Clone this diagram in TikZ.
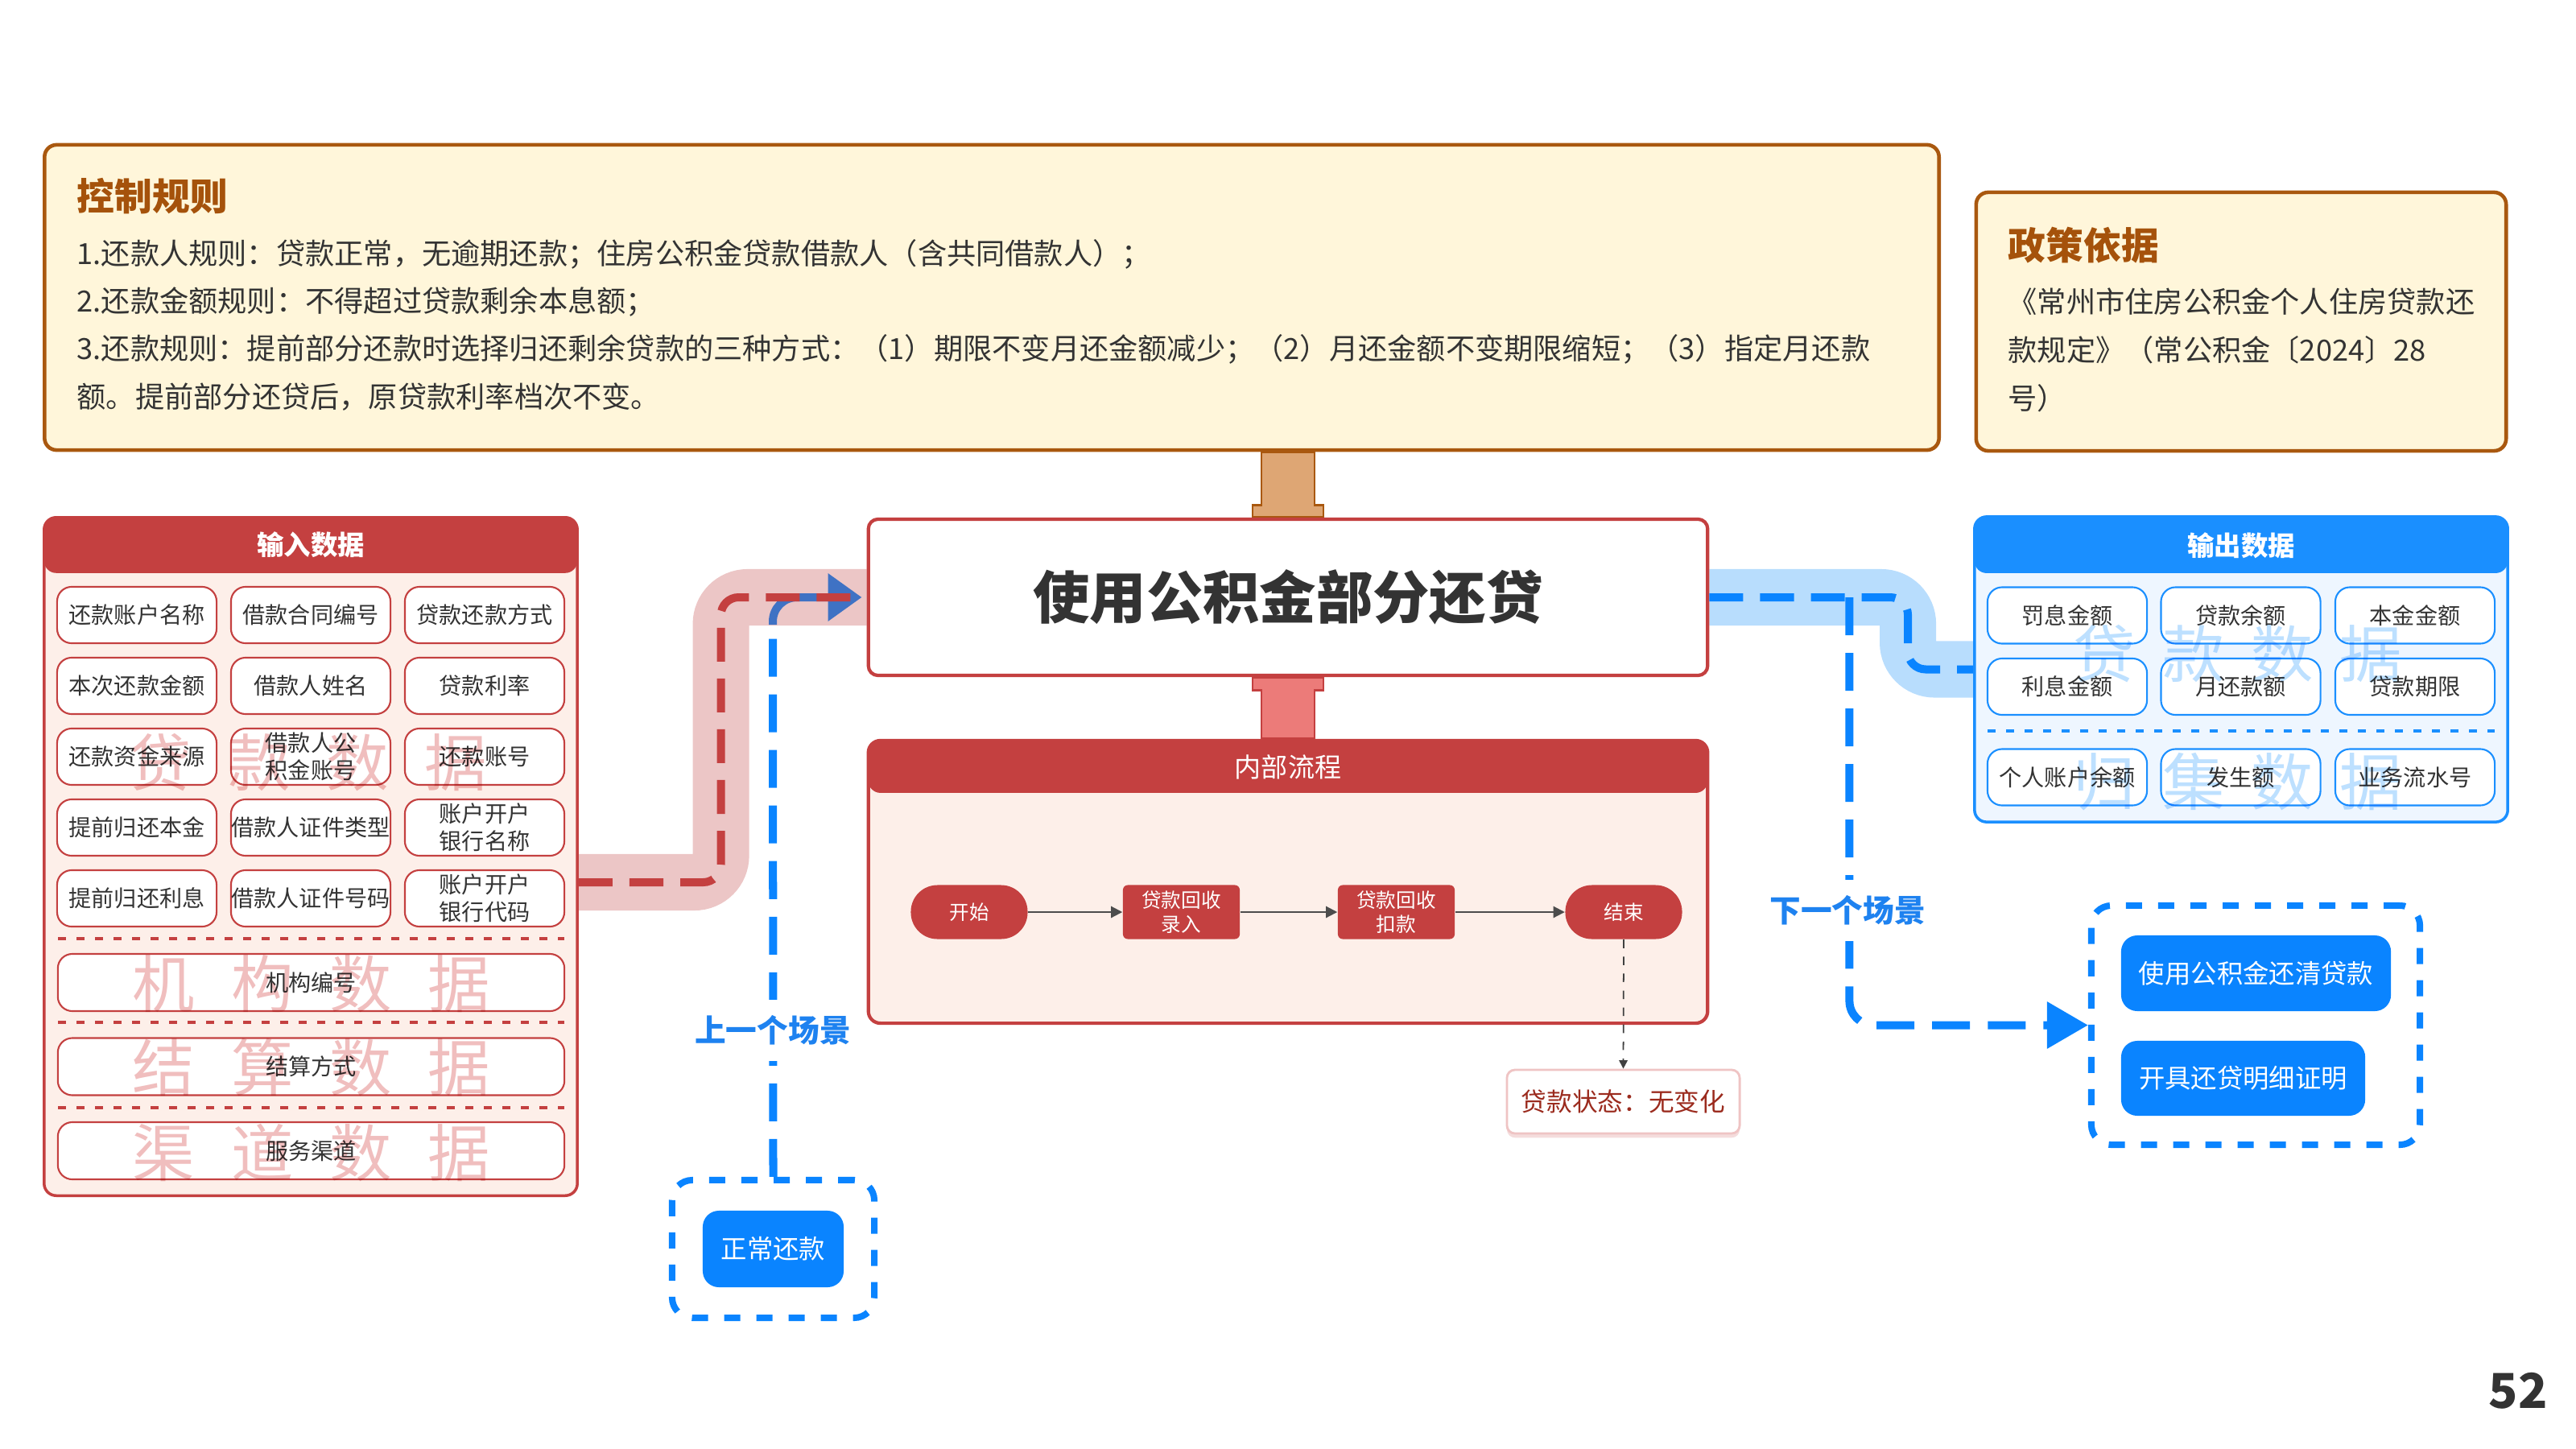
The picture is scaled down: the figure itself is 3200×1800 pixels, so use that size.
\documentclass[tikz,border=0pt]{standalone}
\usepackage{fontspec}
\setmainfont{Noto Sans CJK SC}
\usetikzlibrary{calc,arrows.meta,shadows}
\pgfdeclarelayer{background}
\pgfsetlayers{background,main}

\definecolor{ctrlline}{HTML}{A9580F}
\definecolor{ctrlfill}{HTML}{FFF6DA}
\definecolor{ctrltitle}{HTML}{A5520B}
\definecolor{tanfill}{HTML}{DEA674}
\definecolor{redmain}{HTML}{C44040}
\definecolor{redbody}{HTML}{FDEFE9}
\definecolor{redband}{HTML}{ECC6C6}
\definecolor{salmon}{HTML}{EC7B79}
\definecolor{redwm}{HTML}{F0BEBE}
\definecolor{outblue}{HTML}{1A8FFF}
\definecolor{outbody}{HTML}{EEF6FF}
\definecolor{blueband}{HTML}{B8DDFD}
\definecolor{bluewm}{HTML}{BDE0FF}
\definecolor{sceneblue}{HTML}{0A84FF}
\definecolor{steelblue}{HTML}{3F72C4}
\definecolor{labelblue}{HTML}{1E82F0}
\definecolor{textgray}{HTML}{333333}
\definecolor{statusred}{HTML}{9B2B1E}
\definecolor{statusedge}{HTML}{EFC4C4}

\tikzset{
  panelbox/.style={draw=#1, line width=1pt, rounded corners=0.15cm, inner sep=0pt},
  headtext/.style={text=white, inner sep=0pt, font=\fontsize{9.5}{10}\selectfont\bfseries},
  incell/.style={draw=redmain, fill=white, line width=0.6pt, rounded corners=0.18cm, minimum width=1.98cm, minimum height=0.70cm, inner sep=0pt, align=center, text=textgray, font=\fontsize{8}{9.8}\selectfont},
  outcell/.style={incell, draw=outblue},
  widecell/.style={incell, minimum width=6.29cm, minimum height=0.71cm},
  rule/.style={anchor=west, text=textgray, inner sep=0pt, font=\fontsize{10.3}{12}\selectfont},
  boxtitle/.style={anchor=west, text=ctrltitle, inner sep=0pt, font=\fontsize{13.3}{14}\selectfont\bfseries},
  titlebox/.style={draw=redmain, fill=white, line width=1.2pt, rounded corners=0.12cm, minimum width=10.42cm, minimum height=1.94cm, inner sep=0pt, text=textgray, font=\fontsize{20}{20}\selectfont\bfseries},
  flowstep/.style={fill=redmain, text=white, minimum width=1.45cm, minimum height=0.67cm, inner sep=0pt, align=center, rounded corners=0.06cm, font=\fontsize{7}{8.7}\selectfont},
  flowend/.style={flowstep, rounded corners=0.33cm},
  flowarrow/.style={draw=black!70, line width=0.6pt, -{Triangle[length=4pt,width=4pt]}},
  statusbox/.style={draw=statusedge, fill=white, line width=0.8pt, rounded corners=0.1cm, minimum width=2.89cm, minimum height=0.79cm, inner sep=0pt, text=statusred, font=\fontsize{9}{10}\selectfont, drop shadow={shadow xshift=0pt, shadow yshift=-1.5pt, opacity=0.3, fill=redmain!60}},
  sepline/.style={draw=#1, line width=1pt, dash pattern=on 0.1cm off 0.13cm},
  watermark/.style={inner sep=0pt, font=\fontsize{22}{22}\selectfont},
  scenebox/.style={draw=sceneblue, line width=0.08cm, dash pattern=on 0.2cm off 0.2cm, rounded corners=0.25cm, inner sep=0pt},
  scenebtn/.style={fill=sceneblue, text=white, rounded corners=0.2cm, inner sep=0pt, font=\fontsize{9.2}{10}\selectfont},
  scenedash/.style={draw=sceneblue, line width=0.1cm, dash pattern=on 0.47cm off 0.22cm, rounded corners=0.3cm},
  scenelabel/.style={fill=white, text=labelblue, inner xsep=0.02cm, inner ysep=0.2cm, font=\fontsize{11}{12}\selectfont\bfseries},
  band/.style={draw=#1, line width=0.7cm, rounded corners=0.33cm},
  pipedash/.style={draw=#1, line width=0.1cm, dash pattern=on 0.42cm off 0.21cm, rounded corners=0.22cm},
}

\begin{document}
\begin{tikzpicture}[x=0.01cm,y=-0.01cm]
\useasboundingbox (0,0) rectangle (3200,1800);

% control rules and policy
\node[panelbox=ctrlline, fill=ctrlfill, line width=1.3pt, minimum width=23.52cm, minimum height=3.79cm] (ctrl) at (1232,369.5) {};
\node[boxtitle] (ctrltitle) at (95,244) {控制规则};
\node[rule] (rule1) at (95,316) {1.还款人规则：贷款正常，无逾期还款；住房公积金贷款借款人（含共同借款人）；};
\node[rule] (rule2) at (95,375) {2.还款金额规则：不得超过贷款剩余本息额；};
\node[rule] (rule3) at (95,434) {3.还款规则：提前部分还款时选择归还剩余贷款的三种方式：（1）期限不变月还金额减少；（2）月还金额不变期限缩短；（3）指定月还款};
\node[rule] (rule4) at (95,493) {额。提前部分还贷后，原贷款利率档次不变。};

\node[panelbox=ctrlline, fill=ctrlfill, line width=1.3pt, minimum width=6.58cm, minimum height=3.21cm] (policy) at (2784,399.5) {};
\node[boxtitle] (poltitle) at (2494,305) {政策依据};
\node[rule] (pol1) at (2494,375) {《常州市住房公积金个人住房贷款还};
\node[rule] (pol2) at (2494,435) {款规定》（常公积金〔2024〕28};
\node[rule] (pol3) at (2494,495) {号）};

% scenario title
\node[titlebox] (title) at (1600,742) {使用公积金部分还贷};

% input data
\node[panelbox=redmain, fill=redbody, minimum width=6.62cm, minimum height=8.42cm, path picture={\fill[redmain] (path picture bounding box.north west) rectangle ([yshift=-0.69cm]path picture bounding box.north east);}] (inpanel) at (386,1064) {};
\node[headtext] (inhead) at (386,677) {输入数据};
\node[incell] (inA1) at (170,764) {还款账户名称};
\node[incell] (inA2) at (386,764) {借款合同编号};
\node[incell] (inA3) at (602,764) {贷款还款方式};
\node[incell] (inB1) at (170,852) {本次还款金额};
\node[incell] (inB2) at (386,852) {借款人姓名};
\node[incell] (inB3) at (602,852) {贷款利率};
\node[incell] (inC1) at (170,940) {还款资金来源};
\node[incell] (inC2) at (386,940) {借款人公\\积金账号};
\node[incell] (inC3) at (602,940) {还款账号};
\node[incell] (inD1) at (170,1028) {提前归还本金};
\node[incell] (inD2) at (386,1028) {借款人证件类型};
\node[incell] (inD3) at (602,1028) {账户开户\\银行名称};
\node[incell] (inE1) at (170,1116) {提前归还利息};
\node[incell] (inE2) at (386,1116) {借款人证件号码};
\node[incell] (inE3) at (602,1116) {账户开户\\银行代码};
\draw[sepline=redmain] (72,1166) -- (701,1166);
\node[widecell] (orgno) at (386.5,1220.5) {机构编号};
\draw[sepline=redmain] (72,1270) -- (701,1270);
\node[widecell] (settle) at (386.5,1325) {结算方式};
\draw[sepline=redmain] (72,1376) -- (701,1376);
\node[widecell] (channel) at (386.5,1429.5) {服务渠道};

% internal process
\node[panelbox=redmain, fill=redbody, line width=1.2pt, minimum width=10.42cm, minimum height=3.51cm, path picture={\fill[redmain] (path picture bounding box.north west) rectangle ([yshift=-0.65cm]path picture bounding box.north east);}] (flowpanel) at (1600,1095.5) {};
\node[headtext, font=\fontsize{9.4}{10}\selectfont] (flowhead) at (1600,953) {内部流程};
\node[flowend] (start) at (1204,1133) {开始};
\node[flowstep] (entry) at (1467.5,1133) {贷款回收\\录入};
\node[flowstep] (deduct) at (1734.5,1133) {贷款回收\\扣款};
\node[flowend] (finish) at (2017,1133) {结束};
\draw[flowarrow] (start) -- (entry);
\draw[flowarrow] (entry) -- (deduct);
\draw[flowarrow] (deduct) -- (finish);
\node[statusbox] (status) at (2016.5,1368.5) {贷款状态：无变化};
\draw[dashed, draw=black!75, line width=0.5pt, -{Triangle[length=3pt,width=3pt]}] (finish.south) -- (status.north);

% output data
\node[panelbox=outblue, fill=outbody, minimum width=6.62cm, minimum height=3.79cm, path picture={\fill[outblue] (path picture bounding box.north west) rectangle ([yshift=-0.70cm]path picture bounding box.north east);}] (outpanel) at (2784,831.5) {};
\node[headtext] (outhead) at (2784,678) {输出数据};
\node[outcell] (outA1) at (2568,764.5) {罚息金额};
\node[outcell] (outA2) at (2783.5,764.5) {贷款余额};
\node[outcell] (outA3) at (3000,764.5) {本金金额};
\node[outcell] (outB1) at (2568,853) {利息金额};
\node[outcell] (outB2) at (2783.5,853) {月还款额};
\node[outcell] (outB3) at (3000,853) {贷款期限};
\draw[sepline=outblue] (2469,908) -- (3099,908);
\node[outcell] (outC1) at (2568,965.5) {个人账户余额};
\node[outcell] (outC2) at (2783.5,965.5) {发生额};
\node[outcell] (outC3) at (3000,965.5) {业务流水号};

% watermarks
\begin{scope}[blend mode=multiply]
\node[watermark, text=redwm] (wmloan) at (383,947) {贷\hspace{12.8pt}款\hspace{12.8pt}数\hspace{12.8pt}据};
\node[watermark, text=redwm] (wmorg) at (387,1222) {机\hspace{12.8pt}构\hspace{12.8pt}数\hspace{12.8pt}据};
\node[watermark, text=redwm] (wmsettle) at (387,1326) {结\hspace{12.8pt}算\hspace{12.8pt}数\hspace{12.8pt}据};
\node[watermark, text=redwm] (wmchannel) at (387,1432) {渠\hspace{12.8pt}道\hspace{12.8pt}数\hspace{12.8pt}据};
\node[watermark, text=bluewm] (wmoutloan) at (2780,812) {贷\hspace{9.4pt}款\hspace{9.4pt}数\hspace{9.4pt}据};
\node[watermark, text=bluewm] (wmoutpool) at (2780,971) {归\hspace{9.4pt}集\hspace{9.4pt}数\hspace{9.4pt}据};
\end{scope}

% scenes
\node[scenebox, minimum width=2.51cm, minimum height=1.71cm] (prevbox) at (960.5,1551.5) {};
\node[scenebtn, minimum width=1.75cm, minimum height=0.95cm] (normalpay) at (960.5,1551.5) {正常还款};
\node[scenebox, minimum width=4.08cm, minimum height=2.97cm] (nextbox) at (2802,1273.5) {};
\node[scenebtn, minimum width=3.35cm, minimum height=0.94cm] (payoff) at (2802.5,1209) {使用公积金还清贷款};
\node[scenebtn, minimum width=3.03cm, minimum height=0.93cm] (proof) at (2786.5,1339.5) {开具还贷明细证明};

% pipes
\begin{pgfonlayer}{background}
\draw[band=redband] ($(inpanel.east)+(0,32)$) -| ($(title.west)+(-181,0)$) -- (title.west);
\draw[band=blueband] (title.east) -| ($(outpanel.west)+(-81,0)$) -- (outpanel.west);
\draw[draw=ctrlline, fill=tanfill, line width=0.8pt] ($(title.north |- ctrl.south)+(-33,0)$) -- ($(title.north)+(-33,-15)$) -- ($(title.north)+(-44,-15)$) -- ($(title.north)+(-44,0)$) -- ($(title.north)+(44,0)$) -- ($(title.north)+(44,-15)$) -- ($(title.north)+(33,-15)$) -- ($(title.north |- ctrl.south)+(33,0)$) -- cycle;
\draw[draw=redmain, fill=salmon, line width=0.8pt] ($(title.south)+(-44,0)$) -- ($(title.south)+(-44,16)$) -- ($(title.south)+(-33,16)$) -- ($(flowpanel.north)+(-33,0)$) -- ($(flowpanel.north)+(33,0)$) -- ($(title.south)+(33,16)$) -- ($(title.south)+(44,16)$) -- ($(title.south)+(44,0)$) -- cycle;
\end{pgfonlayer}

\coordinate (prevfork) at (960,776);
\draw[scenedash] (prevbox.north) -- (prevfork);
\draw[draw=steelblue, line width=0.1cm, rounded corners=0.3cm, shorten >=0.06cm, -{Triangle[length=0.42cm,width=0.57cm]}] (prevfork) |- (title.west);
\draw[pipedash=redmain] ($(inpanel.east)+(0,32)$) -| ($(title.west)+(-181,0)$) -- (title.west);
\draw[pipedash=sceneblue] (title.east) -| ($(outpanel.west)+(-81,0)$) -- (outpanel.west);
\coordinate (nextfork) at ($(title.east)+(174,0)$);
\draw[scenedash, -{Triangle[length=0.51cm,width=0.56cm]}] (nextfork) |- (nextbox.west);
\node[scenelabel] (prevlabel) at (960,1280) {上一个场景};
\node[scenelabel] (nextlabel) at (2295,1131) {下一个场景};

\node[font=\fontsize{17}{17}\selectfont\bfseries, text=textgray, inner sep=0pt] (pageno) at (3128,1728) {52};
\end{tikzpicture}
\end{document}
